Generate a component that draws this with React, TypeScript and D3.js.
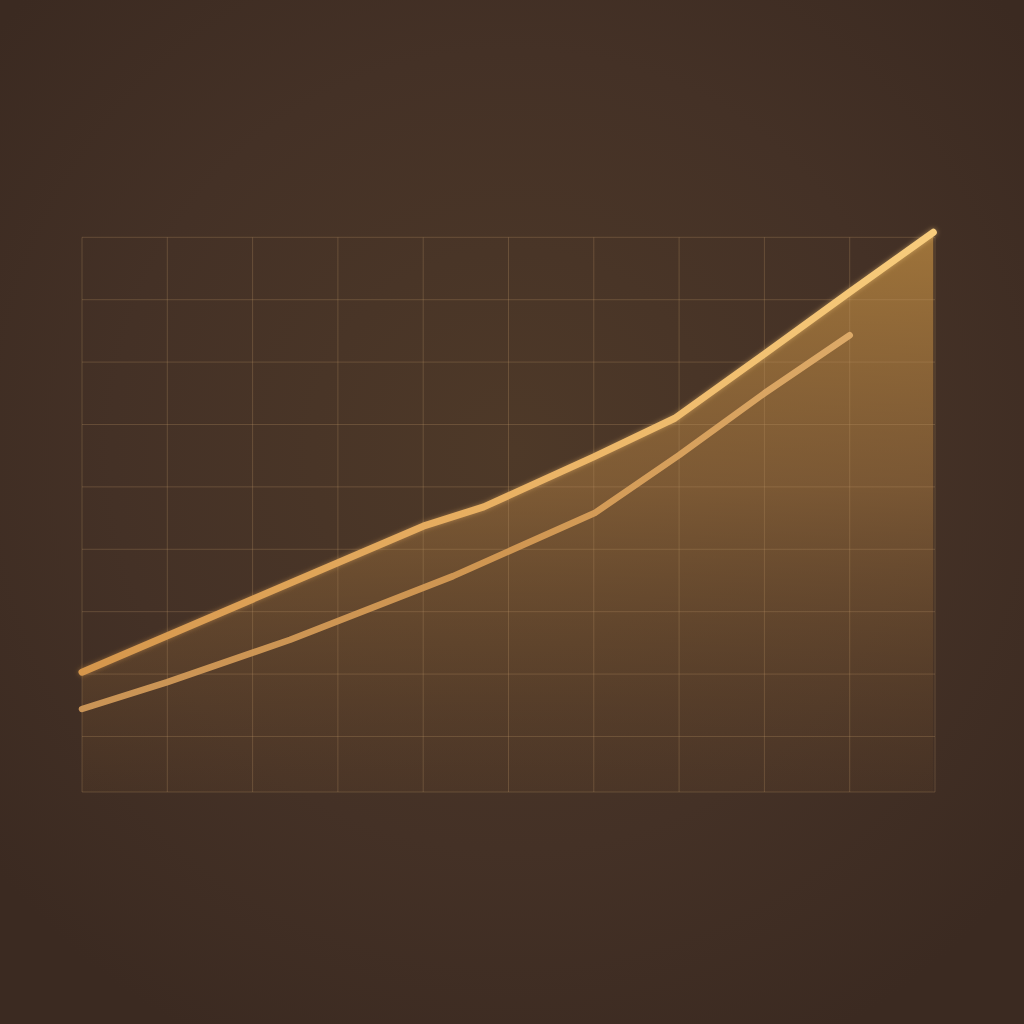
import React, { useEffect, useRef } from 'react';
import * as d3 from 'd3';

// x positions are in grid columns (0..10), y values in grid rows
const upperX = [0, 4, 4.71, 6, 6.95, 8, 9, 9.98];
const upperY = [1.03, 3.37, 3.68, 4.48, 5.1, 6.13, 7.12, 8.08];
const lowerX = [0, 1, 2.44, 4.35, 6.01, 7, 8, 9];
const lowerY = [0.44, 0.87, 1.55, 2.57, 3.58, 4.51, 5.5, 6.43];
const xTicks = d3.range(0, 11);
const yTicks = d3.range(0, 9);

type Pt = { x: number; y: number };

const App: React.FC = () => {
  const containerRef = useRef<HTMLDivElement | null>(null);

  useEffect(() => {
    if (!containerRef.current) return;
    containerRef.current.innerHTML = '';

    const width = 1024;
    const height = 1024;
    const margin = { top: 237.3, right: 89, bottom: 232, left: 82 };
    const graphWidth = width - margin.left - margin.right;
    const graphHeight = height - margin.top - margin.bottom;

    const upper: Pt[] = upperX.map((x, i) => ({ x, y: upperY[i] }));
    const lower: Pt[] = lowerX.map((x, i) => ({ x, y: lowerY[i] }));

    const xScale = d3.scaleLinear().domain([0, 10]).range([0, graphWidth]);
    const yScale = d3.scaleLinear().domain([-0.89, 8]).range([graphHeight, 0]);

    const svg = d3
      .select(containerRef.current)
      .append('svg')
      .attr('width', width)
      .attr('height', height)
      .style('position', 'absolute')
      .style('left', '0px')
      .style('top', '0px');

    const defs = svg.append('defs');

    const bg = defs
      .append('radialGradient')
      .attr('id', 'bg')
      .attr('cx', '50%')
      .attr('cy', '44%')
      .attr('r', '65%');
    bg.append('stop').attr('offset', '0%').attr('stop-color', '#4e3928');
    bg.append('stop').attr('offset', '60%').attr('stop-color', '#443126');
    bg.append('stop').attr('offset', '100%').attr('stop-color', '#3b2a21');

    const areaGrad = defs
      .append('linearGradient')
      .attr('id', 'areaGrad')
      .attr('gradientUnits', 'userSpaceOnUse')
      .attr('x1', 0)
      .attr('y1', 0)
      .attr('x2', 0)
      .attr('y2', graphHeight);
    areaGrad.append('stop').attr('offset', '0%').attr('stop-color', '#b5843f').attr('stop-opacity', 0.8);
    areaGrad.append('stop').attr('offset', '45%').attr('stop-color', '#a5763f').attr('stop-opacity', 0.55);
    areaGrad.append('stop').attr('offset', '100%').attr('stop-color', '#6e4c2c').attr('stop-opacity', 0.15);

    const lineGrad = defs
      .append('linearGradient')
      .attr('id', 'lineGrad')
      .attr('gradientUnits', 'userSpaceOnUse')
      .attr('x1', 0)
      .attr('y1', 0)
      .attr('x2', graphWidth)
      .attr('y2', 0);
    lineGrad.append('stop').attr('offset', '0%').attr('stop-color', '#d5964c');
    lineGrad.append('stop').attr('offset', '55%').attr('stop-color', '#ebb466');
    lineGrad.append('stop').attr('offset', '100%').attr('stop-color', '#f8cc7c');

    const lowerGrad = defs
      .append('linearGradient')
      .attr('id', 'lowerGrad')
      .attr('gradientUnits', 'userSpaceOnUse')
      .attr('x1', 0)
      .attr('y1', 0)
      .attr('x2', graphWidth)
      .attr('y2', 0);
    lowerGrad.append('stop').attr('offset', '0%').attr('stop-color', '#d49c5a');
    lowerGrad.append('stop').attr('offset', '50%').attr('stop-color', '#d89c54');
    lowerGrad.append('stop').attr('offset', '100%').attr('stop-color', '#e6b472');

    const glow = defs.append('filter').attr('id', 'glow').attr('x', '-20%').attr('y', '-20%').attr('width', '140%').attr('height', '140%');
    glow.append('feGaussianBlur').attr('stdDeviation', 2.5).attr('result', 'b');
    glow.append('feComponentTransfer').attr('in', 'b').attr('result', 'bf')
      .append('feFuncA').attr('type', 'linear').attr('slope', 0.5);
    const merge = glow.append('feMerge');
    merge.append('feMergeNode').attr('in', 'bf');
    merge.append('feMergeNode').attr('in', 'SourceGraphic');

    svg.append('rect').attr('width', width).attr('height', height).attr('fill', 'url(#bg)');

    const g = svg.append('g').attr('transform', `translate(${margin.left}, ${margin.top})`);

    // Area under the upper line
    const area = d3
      .area<Pt>()
      .x((d) => xScale(d.x))
      .y0(graphHeight)
      .y1((d) => yScale(d.y));
    g.append('path').datum(upper).attr('d', area).attr('fill', 'url(#areaGrad)');

    // Grid
    const gridColor = 'rgba(190, 150, 105, 0.28)';
    g.append('g')
      .selectAll('line')
      .data(xTicks)
      .join('line')
      .attr('x1', (d) => xScale(d))
      .attr('x2', (d) => xScale(d))
      .attr('y1', 0)
      .attr('y2', graphHeight)
      .attr('stroke', gridColor)
      .attr('stroke-width', 1);
    g.append('g')
      .selectAll('line')
      .data(yTicks)
      .join('line')
      .attr('x1', 0)
      .attr('x2', graphWidth)
      .attr('y1', (d) => yScale(d))
      .attr('y2', (d) => yScale(d))
      .attr('stroke', gridColor)
      .attr('stroke-width', 1);
    g.append('line')
      .attr('x1', 0)
      .attr('x2', graphWidth)
      .attr('y1', graphHeight)
      .attr('y2', graphHeight)
      .attr('stroke', gridColor)
      .attr('stroke-width', 1);

    const line = d3
      .line<Pt>()
      .x((d) => xScale(d.x))
      .y((d) => yScale(d.y));

    g.append('path')
      .datum(lower)
      .attr('d', line)
      .attr('fill', 'none')
      .attr('stroke', 'url(#lowerGrad)')
      .attr('stroke-width', 6.5)
      .attr('stroke-linecap', 'round')
      .attr('stroke-linejoin', 'round')
      .attr('opacity', 0.92);

    g.append('path')
      .datum(upper)
      .attr('d', line)
      .attr('fill', 'none')
      .attr('stroke', 'url(#lineGrad)')
      .attr('stroke-width', 7)
      .attr('stroke-linecap', 'round')
      .attr('stroke-linejoin', 'round')
      .attr('filter', 'url(#glow)');
  }, []);

  return <div ref={containerRef} id="line-graph-container" />;
};

export default App;
